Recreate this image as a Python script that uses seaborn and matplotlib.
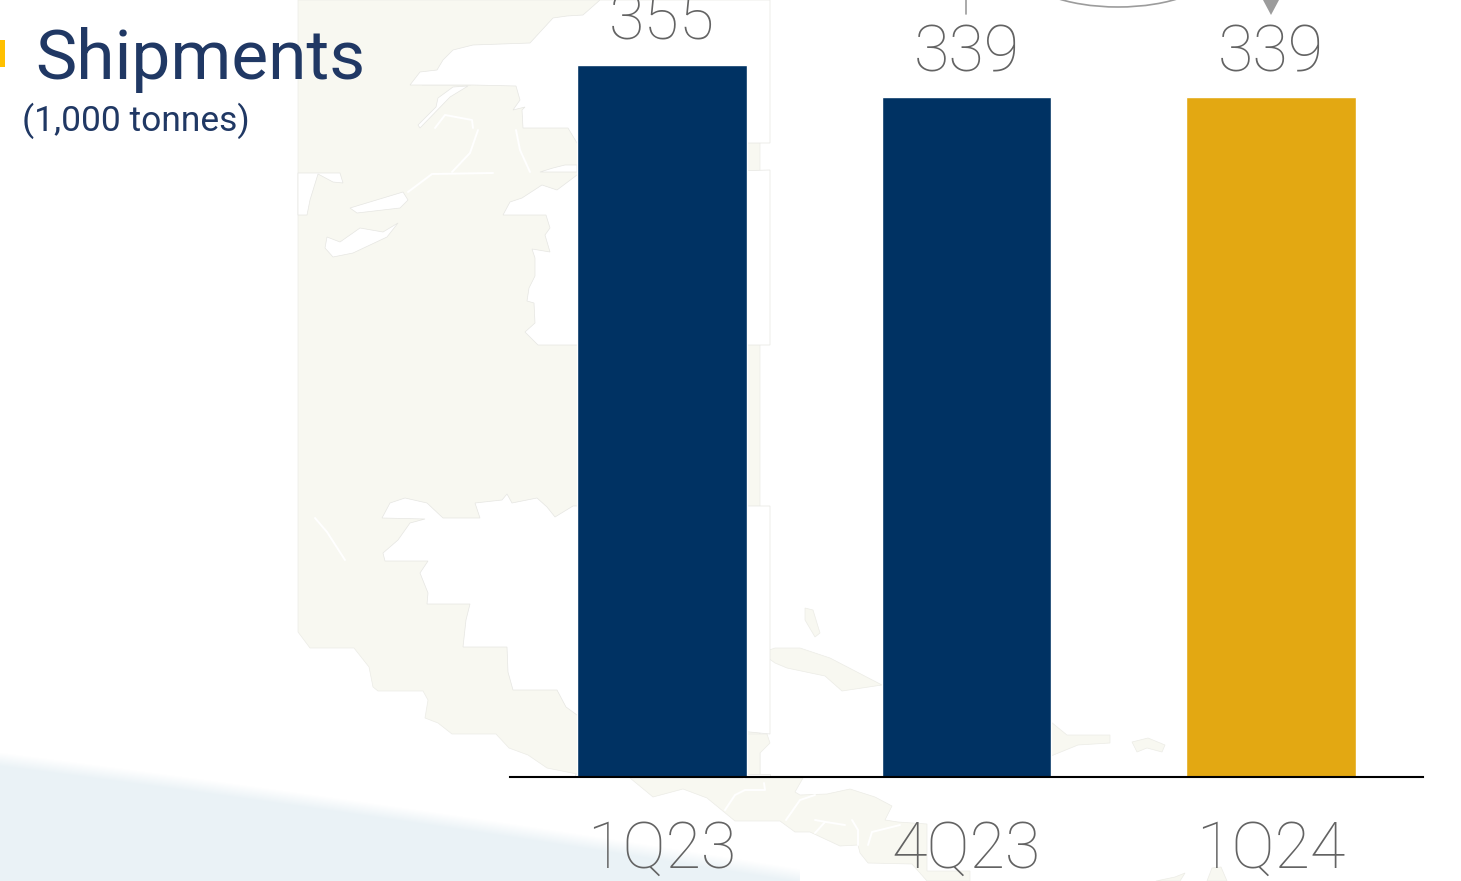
import numpy as np
import pandas as pd
import matplotlib
matplotlib.use("Agg")
import matplotlib.pyplot as plt
from matplotlib.patches import Polygon, Ellipse, Rectangle
import seaborn as sns

# Quarterly shipments, thousand tonnes
quarters = ["1Q23", "4Q23", "1Q24"]
shipments = [355, 339, 339]
bar_colors = ["#003263", "#003263", "#E3A812"]

W, H = 1461, 881
LAND = "#F8F8F1"
GREY_TEXT = "#636363"
NAVY_TEXT = "#203864"
ARROW = "#9C9C9C"
FONT = ["Barlow", "Roboto", "DejaVu Sans"]

sns.set_theme(style="white")
plt.rcParams["font.family"] = ["Roboto", "DejaVu Sans"]

fig = plt.figure(figsize=(W / 100, H / 100), dpi=100, facecolor="white")

# Backdrop layer, addressed in figure pixels
bg = fig.add_axes([0, 0, 1, 1], zorder=0)
bg.set_xlim(0, W)
bg.set_ylim(H, 0)
bg.axis("off")

# Pale blue wave in the lower left corner, with a soft upper edge
xx, yy = np.meshgrid(np.arange(0, 800), np.arange(740, H))
edge = 752 + 0.128 * xx + 0.000022 * xx ** 2
alpha = np.clip((yy - edge) / 14, 0, 1)
wave = np.zeros(xx.shape + (4,))
wave[..., :3] = matplotlib.colors.to_rgb("#EAF2F6")
wave[..., 3] = alpha
bg.imshow(wave, extent=(0, 800, H, 740), aspect="auto", zorder=1, interpolation="bilinear")
bg.set_xlim(0, W)
bg.set_ylim(H, 0)


def land(points):
    bg.add_patch(Polygon(points, closed=True, fc=LAND, ec="#ECECE6", lw=0.5, zorder=2))


def water(points):
    bg.add_patch(Polygon(points, closed=True, fc="white", ec="#E6E6E2", lw=0.5, zorder=3))


def border(points):
    xs, ys = zip(*points)
    bg.plot(xs, ys, color="white", lw=1.4, zorder=4, solid_capstyle="round")


# North America down to the isthmus
land([(298, 0), (760, 0), (760, 776), (577, 774), (547, 768), (528, 755), (509, 748), (496, 734),
      (452, 734), (438, 723), (425, 718), (428, 700), (423, 691), (378, 691), (373, 687),
      (369, 667), (354, 648), (310, 648), (298, 632)])

# Northern waters
water([(410, 85), (420, 72), (437, 70), (443, 60), (453, 50), (473, 45), (530, 43), (553, 18),
       (567, 16), (583, 15), (600, 0), (770, 0), (770, 143), (577, 143), (568, 128), (523, 128),
       (522, 110), (525, 107), (513, 110), (520, 100), (516, 86), (473, 85)])
land([(422, 85), (460, 72), (473, 80), (471, 85)])
land([(493, 54), (528, 63), (535, 76), (515, 72), (497, 63)])
land([(570, 43), (590, 15), (605, 15), (602, 25), (593, 33), (585, 42)])
land([(607, 65), (610, 50), (615, 42), (640, 43), (645, 52), (653, 65)])
water([(418, 125), (420, 128), (450, 97), (468, 86), (453, 87), (438, 98), (436, 107)])

# Eastern seaboard water and inlets
water([(503, 215), (510, 202), (522, 198), (542, 185), (557, 190), (577, 175), (770, 170), (770, 345),
       (538, 345), (525, 332), (535, 323), (534, 303), (527, 301), (529, 288), (535, 276), (535, 258), (532, 249), (550, 252),
       (545, 235), (550, 228), (546, 215)])
land([(543, 267), (560, 262), (571, 265), (570, 268), (545, 270)])
land([(537, 302), (567, 302), (553, 309), (543, 335), (535, 317)])
water([(540, 172), (553, 168), (565, 165), (577, 165), (577, 172)])

# Inland lakes
water([(350, 208), (403, 192), (408, 200), (400, 208), (357, 213)])
water([(327, 237), (340, 242), (360, 228), (383, 232), (398, 223), (387, 237), (353, 253), (333, 257), (325, 248)])
water([(298, 173), (340, 173), (343, 183), (333, 182), (318, 174), (310, 200), (307, 215), (298, 215)])

# Gulf of Mexico
water([(382, 518), (390, 503), (405, 498), (427, 503), (443, 518), (480, 518), (475, 503), (502, 500),
       (507, 494), (512, 503), (537, 498), (547, 507), (555, 517), (573, 506), (770, 506), (770, 734),
       (577, 715), (566, 707), (557, 690), (513, 690), (508, 672), (507, 647), (463, 647), (466, 620),
       (470, 604), (427, 604), (428, 593), (420, 573), (428, 561), (385, 561), (383, 553), (398, 540),
       (410, 523), (425, 519)])
land([(480, 518), (487, 522), (500, 524), (512, 521), (520, 525), (527, 519)])
water([(575, 774), (770, 774), (770, 777), (575, 777)])

# Central America either side of the axis line
land([(630, 778), (653, 797), (683, 789), (707, 798), (735, 821), (780, 821), (795, 832), (810, 832),
      (840, 846), (858, 845), (860, 853), (868, 863), (912, 864), (927, 881), (970, 881), (970, 871),
      (927, 871), (927, 824), (898, 822), (885, 820), (892, 806), (875, 797), (850, 789), (827, 794),
      (800, 795), (795, 792), (803, 778)])
land([(747, 734), (767, 734), (770, 743), (760, 753), (760, 777), (747, 777)])

# Caribbean islands
land([(747, 663), (755, 655), (775, 648), (800, 648), (830, 658), (882, 685), (842, 691), (825, 676),
      (787, 668), (775, 663), (768, 658), (758, 660), (747, 675)])
land([(1051, 722), (1067, 735), (1110, 735), (1110, 743), (1078, 745), (1051, 756)])
land([(1132, 742), (1148, 738), (1165, 745), (1162, 752), (1147, 748), (1137, 752)])
land([(805, 608), (813, 610), (820, 633), (815, 637), (805, 620)])
land([(752, 605), (767, 605), (762, 611), (755, 611)])
land([(1156, 881), (1175, 877), (1185, 873), (1180, 881)])
land([(1207, 881), (1212, 868), (1221, 867), (1227, 881)])

# State and provincial borders
border([(435, 128), (445, 115), (472, 120), (473, 128)])
border([(478, 130), (470, 153), (452, 172)])
border([(516, 130), (520, 150), (530, 172)])
border([(408, 192), (432, 174), (493, 173)])
border([(315, 518), (327, 532), (345, 560)])
border([(744, 778), (740, 770)])
border([(725, 810), (735, 795), (745, 790), (765, 790), (764, 783)])
border([(786, 820), (800, 800), (815, 795)])
border([(815, 820), (826, 822), (845, 825)])
border([(815, 833), (825, 822)])
border([(852, 820), (858, 830), (858, 845)])
border([(868, 845), (872, 832), (900, 825)])

# Bars
df = pd.DataFrame({"quarter": quarters, "shipments": shipments})
x0, x1 = 510 / W, 1423 / W
y_base = 777
ax = fig.add_axes([x0, 1 - y_base / H, x1 - x0, y_base / H], zorder=2)
ax.patch.set_alpha(0)
sns.barplot(data=df, x="quarter", y="shipments", hue="quarter", palette=bar_colors,
            width=0.557, legend=False, saturation=1, ax=ax)
ax.set_xlim(-0.5, 2.5)
ax.set_ylim(0, y_base / (712 / 355))
ax.set_xlabel("")
ax.set_ylabel("")
ax.set_yticks([])
sns.despine(ax=ax, left=True)
ax.spines["bottom"].set_color("black")
ax.spines["bottom"].set_linewidth(1.5)
ax.tick_params(axis="x", length=0, pad=30, labelsize=46.5, labelcolor=GREY_TEXT)
for lbl in ax.get_xticklabels():
    lbl.set_fontweight("light")
for container in ax.containers:
    ax.bar_label(container, padding=9, fontsize=46.5, color=GREY_TEXT, fontweight="light", clip_on=False)

# Change arrow running above the last two bars
over = fig.add_axes([0, 0, 1, 1], zorder=3)
over.set_xlim(0, W)
over.set_ylim(H, 0)
over.axis("off")
over.plot([966, 966], [0, 14], color=ARROW, lw=1.2)
over.add_patch(Ellipse((1118, -30), 190, 74, fc="none", ec=ARROW, lw=1.2))
over.add_patch(Polygon([(1263, 0), (1279, 0), (1271, 15)], closed=True, fc=ARROW, ec="none"))

# Heading
over.add_patch(Rectangle((0, 40), 5, 27, fc="#FFC000", ec="none"))
over.text(35, 79, "Shipments", fontsize=50, color=NAVY_TEXT, ha="left", va="baseline")
over.text(22, 131, "(1,000 tonnes)", fontsize=25.5, color=NAVY_TEXT, ha="left", va="baseline")

fig.savefig("out.png", dpi=100)
